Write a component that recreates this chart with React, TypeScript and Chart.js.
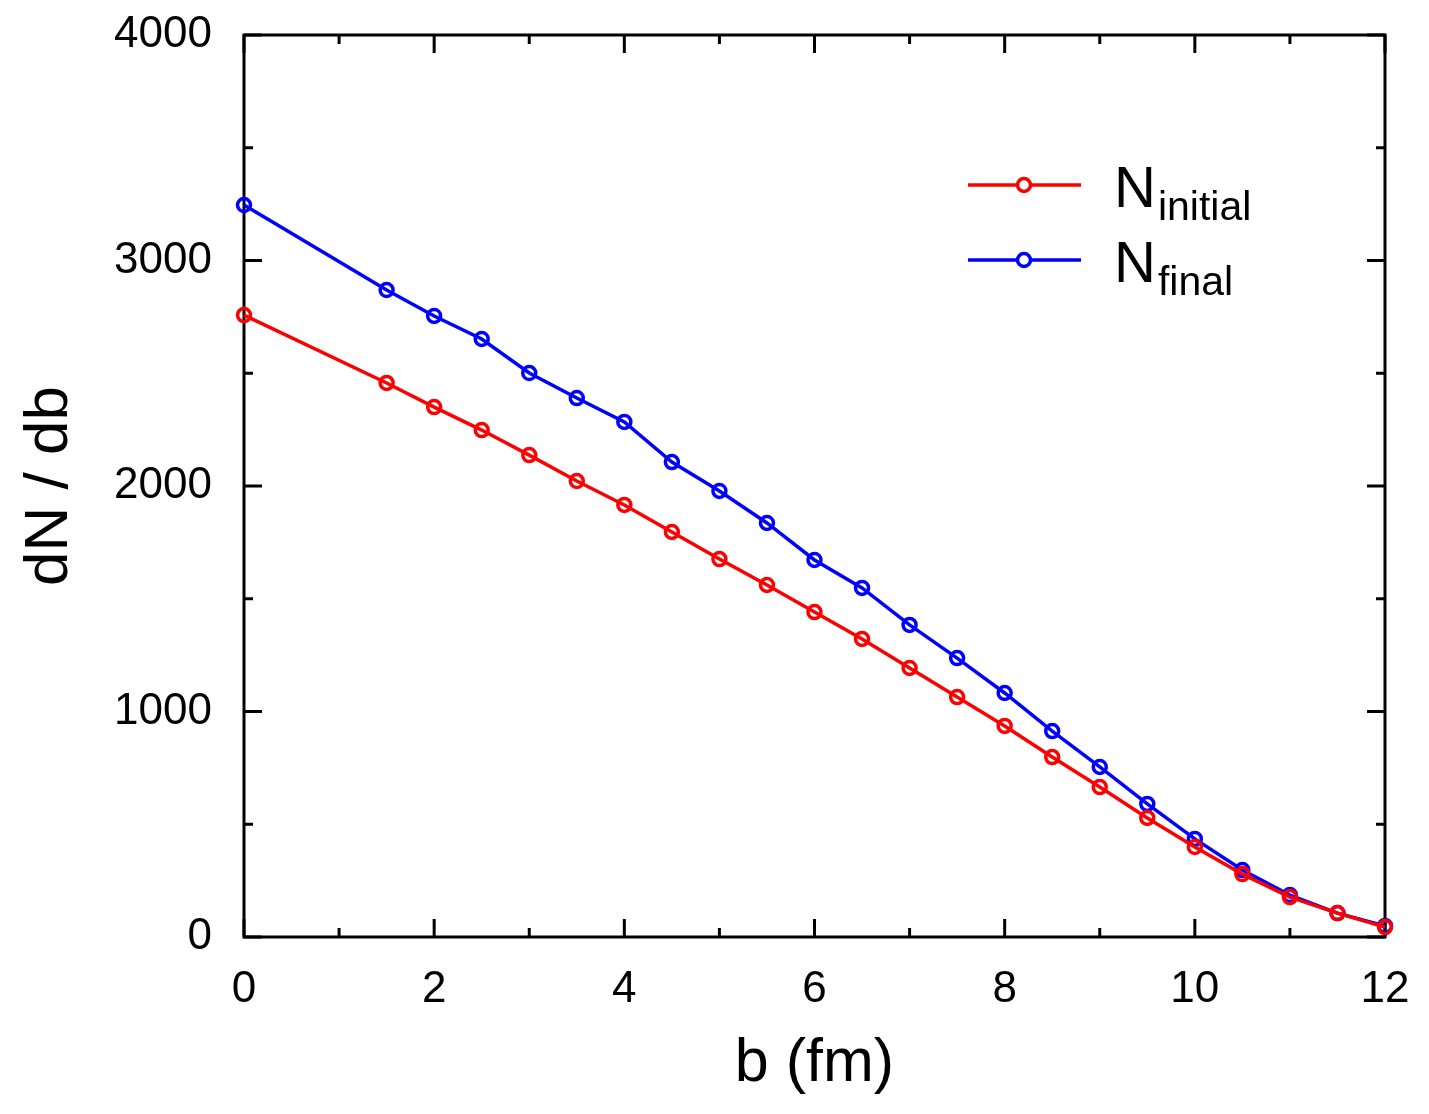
import React, { useEffect, useRef } from "react";
import { Chart, registerables } from "chart.js";

Chart.register(...registerables);

const bValues = [0, 1.5, 2, 2.5, 3, 3.5, 4, 4.5, 5, 5.5, 6, 6.5, 7, 7.5, 8, 8.5, 9, 9.5, 10, 10.5, 11, 11.5, 12];
const nInitial = [2758, 2457, 2350, 2248, 2137, 2022, 1916, 1796, 1676, 1561, 1441, 1322, 1193, 1064, 936, 798, 665, 528, 399, 279, 177, 106, 44];
const nFinal = [3246, 2869, 2754, 2652, 2501, 2390, 2284, 2106, 1978, 1836, 1672, 1548, 1384, 1237, 1082, 913, 754, 590, 435, 297, 186, 106, 49];

const xMajorTicks = [0, 2, 4, 6, 8, 10, 12];
const xMinorTicks = [1, 3, 5, 7, 9, 11];
const yMajorTicks = [0, 1000, 2000, 3000, 4000];
const yMinorTicks = [500, 1500, 2500, 3500];

const seriesNames = ["initial", "final"];
const seriesColors = ["#ff0000", "#0000ff"];
const xTitle = "b (fm)";
const yTitle = "dN / db";

const FONT = "'Liberation Sans', Arial, sans-serif";

const framePlugin = {
  id: "frameTicks",
  beforeDatasetsDraw(chart: any) {
    const { ctx, chartArea } = chart;
    const xs = chart.scales.x;
    const ys = chart.scales.y;
    const { left, right, top, bottom } = chartArea;
    ctx.save();
    ctx.strokeStyle = "#000";
    ctx.lineWidth = 3;
    ctx.lineCap = "butt";
    const major = 18;
    const minor = 9;
    const tick = (x1: number, y1: number, x2: number, y2: number) => {
      ctx.beginPath();
      ctx.moveTo(x1, y1);
      ctx.lineTo(x2, y2);
      ctx.stroke();
    };
    xMajorTicks.forEach((v) => {
      const p = xs.getPixelForValue(v);
      tick(p, bottom, p, bottom - major);
      tick(p, top, p, top + major);
    });
    xMinorTicks.forEach((v) => {
      const p = xs.getPixelForValue(v);
      tick(p, bottom, p, bottom - minor);
      tick(p, top, p, top + minor);
    });
    yMajorTicks.forEach((v) => {
      const p = ys.getPixelForValue(v);
      tick(left, p, left + major, p);
      tick(right, p, right - major, p);
    });
    yMinorTicks.forEach((v) => {
      const p = ys.getPixelForValue(v);
      tick(left, p, left + minor, p);
      tick(right, p, right - minor, p);
    });
    ctx.lineJoin = "miter";
    ctx.strokeRect(left, top, right - left, bottom - top);

    // axis titles
    ctx.fillStyle = "#000";
    ctx.font = `61px ${FONT}`;
    ctx.textAlign = "center";
    ctx.textBaseline = "alphabetic";
    ctx.fillText(xTitle, (left + right) / 2, 1081);
    ctx.save();
    ctx.translate(67, (top + bottom) / 2);
    ctx.rotate(-Math.PI / 2);
    ctx.font = `62px ${FONT}`;
    ctx.fillText(yTitle, 0, 0);
    ctx.restore();
    ctx.restore();
  },
  afterDraw(chart: any) {
    const { ctx } = chart;
    const rows = [185, 260];
    ctx.save();
    seriesNames.forEach((name, i) => {
      const y = rows[i];
      ctx.strokeStyle = seriesColors[i];
      ctx.lineWidth = 3.5;
      ctx.beginPath();
      ctx.moveTo(968, y);
      ctx.lineTo(1081, y);
      ctx.stroke();
      ctx.beginPath();
      ctx.fillStyle = "#fff";
      ctx.arc(1024, y, 6.5, 0, Math.PI * 2);
      ctx.fill();
      ctx.stroke();
      ctx.fillStyle = "#000";
      ctx.textAlign = "left";
      ctx.textBaseline = "alphabetic";
      ctx.font = `58px ${FONT}`;
      ctx.fillText("N", 1114, y + 22);
      const w = ctx.measureText("N").width;
      ctx.font = `41px ${FONT}`;
      ctx.fillText(name, 1114 + w + 2, y + 35);
    });
    ctx.restore();
  },
};

export default function App() {
  const ref = useRef<HTMLCanvasElement | null>(null);
  useEffect(() => {
    document.body.style.margin = "0";
    const canvas = ref.current;
    if (!canvas) return;
    const makeData = (vals: number[]) => bValues.map((b, i) => ({ x: b, y: vals[i] }));
    const chart = new Chart(canvas, {
      type: "scatter",
      data: {
        datasets: [
          {
            label: "N_initial",
            data: makeData(nInitial),
            showLine: true,
            borderColor: seriesColors[0],
            backgroundColor: "rgba(0,0,0,0)",
            borderWidth: 3.5,
            pointRadius: 6.5,
            pointBorderWidth: 3.5,
            pointBorderColor: seriesColors[0],
            pointBackgroundColor: "rgba(0,0,0,0)",
            clip: false as any,
          },
          {
            label: "N_final",
            data: makeData(nFinal),
            showLine: true,
            borderColor: seriesColors[1],
            backgroundColor: "rgba(0,0,0,0)",
            borderWidth: 3.5,
            pointRadius: 6.5,
            pointBorderWidth: 3.5,
            pointBorderColor: seriesColors[1],
            pointBackgroundColor: "rgba(0,0,0,0)",
            clip: false as any,
          },
        ],
      },
      options: {
        animation: false,
        responsive: false,
        maintainAspectRatio: false,
        devicePixelRatio: 1,
        layout: { padding: { top: 35, right: 44, left: 0, bottom: 0 } },
        plugins: { legend: { display: false }, tooltip: { enabled: false }, title: { display: false } },
        scales: {
          x: {
            type: "linear",
            min: 0,
            max: 12,
            border: { display: false },
            grid: { display: false, drawTicks: false },
            ticks: {
              stepSize: 2,
              color: "#000",
              font: { family: FONT, size: 44 },
              padding: 26,
              maxRotation: 0,
              callback: (v: any) => String(v),
            },
            afterFit: (s: any) => {
              s.height = 177;
              s.paddingLeft = 0;
              s.paddingRight = 0;
            },
          },
          y: {
            type: "linear",
            min: 0,
            max: 4000,
            border: { display: false },
            grid: { display: false, drawTicks: false },
            ticks: {
              stepSize: 1000,
              color: "#000",
              font: { family: FONT, size: 44 },
              padding: 32,
              callback: (v: any) => String(v),
            },
            afterFit: (s: any) => {
              s.width = 244;
              s.paddingTop = 0;
              s.paddingBottom = 0;
            },
          },
        },
      },
      plugins: [framePlugin],
    });
    return () => chart.destroy();
  }, []);
  return <canvas ref={ref} width={1429} height={1114} style={{ display: "block", width: 1429, height: 1114 }} />;
}
